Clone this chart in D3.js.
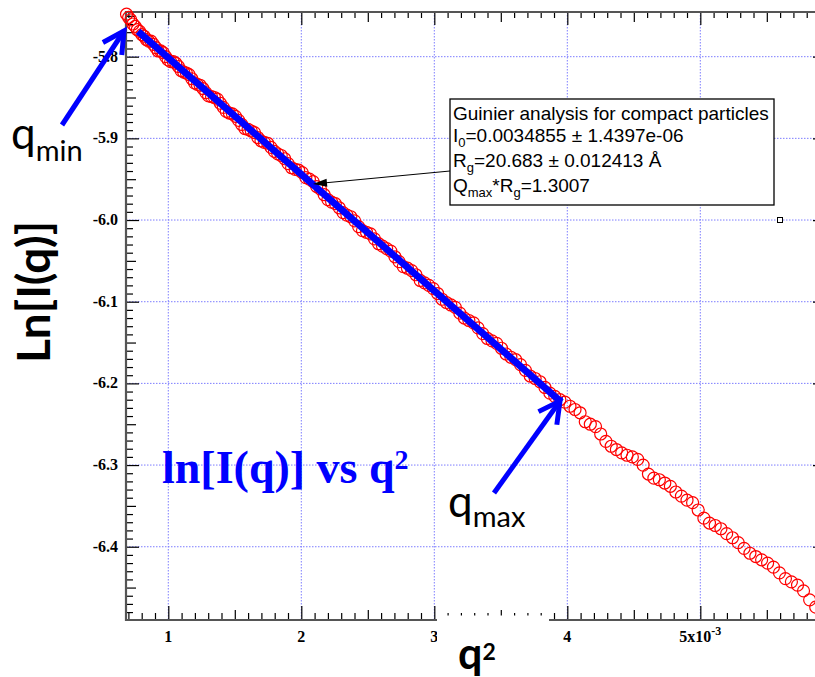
<!DOCTYPE html>
<html>
<head>
<meta charset="utf-8">
<script src="https://cdn.jsdelivr.net/npm/d3@7"></script>
<style>
  html, body { margin: 0; padding: 0; background: #fff; }
  svg { display: block; }
  .tick-label { font-family: "Liberation Serif", "Times New Roman", serif; font-weight: bold; font-size: 16px; fill: #000; }
  .box-text { font-family: "Liberation Sans", Arial, sans-serif; font-size: 19px; fill: #000; }
</style>
</head>
<body>
<svg id="chart" width="815" height="677"></svg>
<script>
'use strict';

// q^2, in units of 1e-3 (A^-2)
var q2 = [
  0.686, 0.702, 0.718, 0.734, 0.751, 0.767, 0.784, 0.801, 0.818, 0.835,
  0.853, 0.870, 0.888, 0.906, 0.924, 0.943, 0.961, 0.980, 0.999, 1.018,
  1.037, 1.056, 1.076, 1.096, 1.116, 1.136, 1.156, 1.177, 1.197, 1.218,
  1.239, 1.260, 1.282, 1.303, 1.325, 1.347, 1.369, 1.391, 1.414, 1.436,
  1.459, 1.482, 1.505, 1.529, 1.552, 1.576, 1.600, 1.624, 1.648, 1.673,
  1.697, 1.722, 1.747, 1.772, 1.798, 1.823, 1.849, 1.875, 1.901, 1.927,
  1.954, 1.980, 2.007, 2.034, 2.061, 2.089, 2.116, 2.144, 2.172, 2.200,
  2.228, 2.256, 2.285, 2.314, 2.343, 2.372, 2.401, 2.431, 2.460, 2.490,
  2.520, 2.550, 2.581, 2.611, 2.642, 2.673, 2.704, 2.735, 2.767, 2.798,
  2.830, 2.862, 2.894, 2.927, 2.959, 2.992, 3.025, 3.058, 3.091, 3.125,
  3.158, 3.192, 3.226, 3.260, 3.295, 3.329, 3.364, 3.399, 3.434, 3.469,
  3.505, 3.540, 3.576, 3.612, 3.648, 3.685, 3.721, 3.758, 3.795, 3.832,
  3.869, 3.906, 3.944, 3.982, 4.020, 4.058, 4.096, 4.135, 4.173, 4.212,
  4.251, 4.290, 4.330, 4.369, 4.409, 4.449, 4.489, 4.529, 4.570, 4.610,
  4.651, 4.692, 4.733, 4.775, 4.816, 4.858, 4.900, 4.942, 4.984, 5.027,
  5.069, 5.112, 5.155, 5.198, 5.242, 5.285, 5.329, 5.373, 5.417, 5.461,
  5.506, 5.550, 5.595, 5.640, 5.685, 5.731, 5.776, 5.822, 5.868
];

// ln[I(q)]
var lnI = [
  -5.748, -5.752, -5.755, -5.760, -5.763, -5.767, -5.769, -5.773, -5.775, -5.779,
  -5.781, -5.781, -5.785, -5.789, -5.793, -5.793, -5.795, -5.800, -5.804, -5.806,
  -5.806, -5.808, -5.812, -5.817, -5.819, -5.820, -5.822, -5.827, -5.832, -5.834,
  -5.835, -5.839, -5.844, -5.848, -5.849, -5.850, -5.852, -5.857, -5.862, -5.867,
  -5.869, -5.870, -5.873, -5.878, -5.883, -5.888, -5.889, -5.891, -5.893, -5.899,
  -5.903, -5.905, -5.906, -5.911, -5.916, -5.919, -5.921, -5.925, -5.931, -5.936,
  -5.938, -5.939, -5.942, -5.948, -5.950, -5.953, -5.959, -5.962, -5.969, -5.975,
  -5.978, -5.980, -5.985, -5.991, -5.994, -5.996, -6.001, -6.008, -6.013, -6.015,
  -6.017, -6.023, -6.029, -6.032, -6.035, -6.038, -6.045, -6.051, -6.057, -6.059,
  -6.062, -6.067, -6.074, -6.077, -6.080, -6.084, -6.090, -6.097, -6.101, -6.104,
  -6.107, -6.114, -6.120, -6.123, -6.126, -6.132, -6.139, -6.145, -6.148, -6.151,
  -6.157, -6.164, -6.168, -6.171, -6.177, -6.184, -6.191, -6.194, -6.198, -6.205,
  -6.212, -6.216, -6.220, -6.223, -6.228, -6.232, -6.236, -6.247, -6.250, -6.253,
  -6.262, -6.271, -6.277, -6.281, -6.285, -6.288, -6.290, -6.293, -6.300, -6.311,
  -6.316, -6.318, -6.322, -6.326, -6.333, -6.338, -6.343, -6.346, -6.355, -6.365,
  -6.371, -6.374, -6.378, -6.384, -6.389, -6.395, -6.402, -6.408, -6.412, -6.416,
  -6.420, -6.425, -6.432, -6.439, -6.443, -6.447, -6.454, -6.465, -6.474
];

// Guinier fit between qmin and qmax
var fitQ2 = [0.773, 3.955];
var fitLnI = [-5.769, -6.223];

var xMajor = [1, 2, 3, 4, 5];
var xLabels = ['1', '2', '3', '4', '5x10'];
var yMajor = [-5.8, -5.9, -6.0, -6.1, -6.2, -6.3, -6.4];
var yLabels = ['-5.8', '-5.9', '-6.0', '-6.1', '-6.2', '-6.3', '-6.4'];

var W = 815, H = 677;
var plot = {left: 126, right: 826, top: 12, bottom: 620};

var svg = d3.select('#chart');
svg.append('rect').attr('width', W).attr('height', H).attr('fill', '#fff');

var x = d3.scaleLinear().domain([0.682, 5.945]).range([plot.left, plot.right]);
var y = d3.scaleLinear().domain([-6.4897, -5.7453]).range([plot.bottom, plot.top]);

// dotted grid at major ticks
var grid = svg.append('g')
  .attr('stroke', '#7d7dff').attr('stroke-width', 1).attr('stroke-dasharray', '1.5,1.5');
grid.selectAll('line.v').data(xMajor).enter().append('line').attr('class', 'v')
  .attr('x1', function (d) { return x(d); }).attr('x2', function (d) { return x(d); })
  .attr('y1', plot.top).attr('y2', plot.bottom);
grid.selectAll('line.h').data(yMajor).enter().append('line').attr('class', 'h')
  .attr('y1', function (d) { return y(d); }).attr('y2', function (d) { return y(d); })
  .attr('x1', plot.left).attr('x2', plot.right);

// tick sets: major / mid / minor on all four sides, pointing inwards
var xMid = [1.5, 2.5, 3.5, 4.5, 5.5];
var xMinor = d3.range(7, 60).filter(function (i) { return i % 5 !== 0; }).map(function (i) { return i / 10; });
var yMid = d3.range(-645, -574, 10).map(function (i) { return i / 100; });
var yMinor = d3.range(-648, -574).filter(function (i) { return i % 5 !== 0; }).map(function (i) { return i / 100; });

function ticks(axisFn, scale, values, size, tx, ty) {
  svg.append('g').attr('transform', 'translate(' + tx + ',' + ty + ')')
    .call(axisFn(scale).tickValues(values).tickSize(size).tickSizeOuter(0).tickFormat(''))
    .call(function (g) { g.select('.domain').remove(); })
    .selectAll('line').attr('stroke', '#000').attr('stroke-width', 1.2);
}

ticks(d3.axisBottom, x, xMajor, -14, 0, plot.bottom);
ticks(d3.axisBottom, x, xMid, -10, 0, plot.bottom);
ticks(d3.axisBottom, x, xMinor, -7, 0, plot.bottom);
ticks(d3.axisTop, x, xMajor, -13, 0, plot.top);
ticks(d3.axisTop, x, xMid, -10, 0, plot.top);
ticks(d3.axisTop, x, xMinor, -6, 0, plot.top);
ticks(d3.axisLeft, y, yMajor, -13, plot.left, 0);
ticks(d3.axisLeft, y, yMid, -10, plot.left, 0);
ticks(d3.axisLeft, y, yMinor, -7, plot.left, 0);
ticks(d3.axisRight, y, yMajor, -13, plot.right, 0);
ticks(d3.axisRight, y, yMid, -10, plot.right, 0);
ticks(d3.axisRight, y, yMinor, -7, plot.right, 0);

// axis lines
var frame = svg.append('g').attr('stroke', '#555').attr('stroke-width', 2.2);
frame.append('line').attr('x1', plot.left).attr('x2', plot.left).attr('y1', plot.top - 1).attr('y2', plot.bottom + 1);
frame.append('line').attr('x1', plot.left - 1).attr('x2', plot.right).attr('y1', plot.bottom).attr('y2', plot.bottom);
frame.append('line').attr('x1', plot.left - 1).attr('x2', plot.right).attr('y1', plot.top).attr('y2', plot.top);

// tick labels
svg.selectAll('text.ylab').data(yMajor).enter().append('text')
  .attr('class', 'tick-label')
  .attr('x', plot.left - 8)
  .attr('y', function (d) { return y(d) + 5; })
  .attr('text-anchor', 'end')
  .text(function (d, i) { return yLabels[i]; });

var xl = svg.selectAll('text.xlab').data(xMajor).enter().append('text')
  .attr('class', 'tick-label')
  .attr('x', function (d) { return x(d); })
  .attr('y', 642)
  .attr('text-anchor', 'middle');
xl.append('tspan').text(function (d, i) { return xLabels[i]; });
xl.filter(function (d) { return d === 5; }).append('tspan')
  .attr('dy', -7).attr('font-size', 12).text('-3');

// white patch over the bottom axis (behind the q^2 title)
svg.append('rect').attr('x', 437).attr('y', 615.5).attr('width', 112).attr('height', 62).attr('fill', '#fff');

// data: open red circles
svg.append('g').selectAll('circle').data(q2).enter().append('circle')
  .attr('cx', function (d) { return x(d); })
  .attr('cy', function (d, i) { return y(lnI[i]); })
  .attr('r', 6)
  .attr('fill', 'none')
  .attr('stroke', '#ff0000')
  .attr('stroke-width', 1.2);

// Guinier fit line
svg.append('line')
  .attr('x1', x(fitQ2[0])).attr('y1', y(fitLnI[0]))
  .attr('x2', x(fitQ2[1])).attr('y2', y(fitLnI[1]))
  .attr('stroke', '#0000ff').attr('stroke-width', 7);

// axis titles
svg.append('text')
  .attr('transform', 'translate(50,292) rotate(-90)')
  .attr('text-anchor', 'middle')
  .attr('font-family', 'Lato, "Open Sans", sans-serif')
  .attr('font-weight', 'bold')
  .attr('font-size', 46)
  .text('Ln[I(q)]');

var xt = svg.append('text')
  .attr('x', 458).attr('y', 669)
  .attr('font-family', 'Lato, "Open Sans", sans-serif')
  .attr('font-weight', 'bold')
  .attr('font-size', 43);
xt.append('tspan').text('q');
xt.append('tspan').attr('dy', -9).attr('font-size', 23).text('2');

// blue caption
var cap = svg.append('text')
  .attr('x', 162).attr('y', 483)
  .attr('font-family', '"Liberation Serif", "Times New Roman", serif')
  .attr('font-weight', 'bold')
  .attr('font-size', 46)
  .attr('fill', '#0000ff');
cap.append('tspan').text('ln[I(q)] vs q');
cap.append('tspan').attr('dy', -14).attr('font-size', 28).text('2');

// blue arrows with open heads
function blueArrow(x0, y0, x1, y1) {
  var a = Math.atan2(y1 - y0, x1 - x0), L = 24, s = 0.49;
  var p1 = [x1 - L * Math.cos(a - s), y1 - L * Math.sin(a - s)];
  var p2 = [x1 - L * Math.cos(a + s), y1 - L * Math.sin(a + s)];
  var g = svg.append('g').attr('stroke', '#0000ff').attr('stroke-width', 5).attr('fill', 'none');
  g.append('line').attr('x1', x0).attr('y1', y0).attr('x2', x1).attr('y2', y1);
  g.append('path').attr('stroke-linejoin', 'miter')
    .attr('d', 'M' + p1 + 'L' + x1 + ',' + y1 + 'L' + p2);
}
blueArrow(62, 125, 124, 31);
blueArrow(494, 493, 560, 401);

function qLabel(px, py, sub, subY) {
  var t = svg.append('text').attr('x', px).attr('y', py)
    .attr('font-family', 'Lato, "Open Sans", sans-serif').attr('fill', '#000');
  t.append('tspan').attr('font-size', 44).text('q');
  t.append('tspan').attr('font-size', 29).attr('dy', subY).text(sub);
}
qLabel(11, 149, 'min', 12);
qLabel(448, 517, 'max', 10);

// annotation box
svg.append('rect').attr('x', 450).attr('y', 99).attr('width', 324).attr('height', 106)
  .attr('fill', '#fff').attr('stroke', '#000').attr('stroke-width', 1.3);

var tx = 453;
svg.append('text').attr('class', 'box-text').attr('x', tx).attr('y', 120)
  .text('Guinier analysis for compact particles');
var l2 = svg.append('text').attr('class', 'box-text').attr('x', tx).attr('y', 142);
l2.append('tspan').text('I');
l2.append('tspan').attr('font-size', 13).attr('dy', 5).text('0');
l2.append('tspan').attr('dy', -5).text('=0.0034855 \u00b1 1.4397e-06');
var l3 = svg.append('text').attr('class', 'box-text').attr('x', tx).attr('y', 167);
l3.append('tspan').text('R');
l3.append('tspan').attr('font-size', 13).attr('dy', 5).text('g');
l3.append('tspan').attr('dy', -5).text('=20.683 \u00b1 0.012413 \u00c5');
var l4 = svg.append('text').attr('class', 'box-text').attr('x', tx).attr('y', 192);
l4.append('tspan').text('Q');
l4.append('tspan').attr('font-size', 13).attr('dy', 5).text('max');
l4.append('tspan').attr('dy', -5).text('*R');
l4.append('tspan').attr('font-size', 13).attr('dy', 5).text('g');
l4.append('tspan').attr('dy', -5).text('=1.3007');

// pointer from the box to the data
var ax0 = 450, ay0 = 171, ax1 = 313, ay1 = 184;
var ang = Math.atan2(ay1 - ay0, ax1 - ax0);
svg.append('line').attr('x1', ax0).attr('y1', ay0)
  .attr('x2', ax1 - 12 * Math.cos(ang)).attr('y2', ay1 - 12 * Math.sin(ang))
  .attr('stroke', '#000').attr('stroke-width', 1);
svg.append('path')
  .attr('d', 'M' + ax1 + ',' + ay1 +
    'L' + (ax1 - 14 * Math.cos(ang) + 4 * Math.sin(ang)) + ',' + (ay1 - 14 * Math.sin(ang) - 4 * Math.cos(ang)) +
    'L' + (ax1 - 14 * Math.cos(ang) - 4 * Math.sin(ang)) + ',' + (ay1 - 14 * Math.sin(ang) + 4 * Math.cos(ang)) + 'Z')
  .attr('fill', '#000');

// small marker square
svg.append('rect').attr('x', 777.5).attr('y', 217.5).attr('width', 5).attr('height', 5)
  .attr('fill', '#fff').attr('stroke', '#000').attr('stroke-width', 1);
</script>
</body>
</html>
